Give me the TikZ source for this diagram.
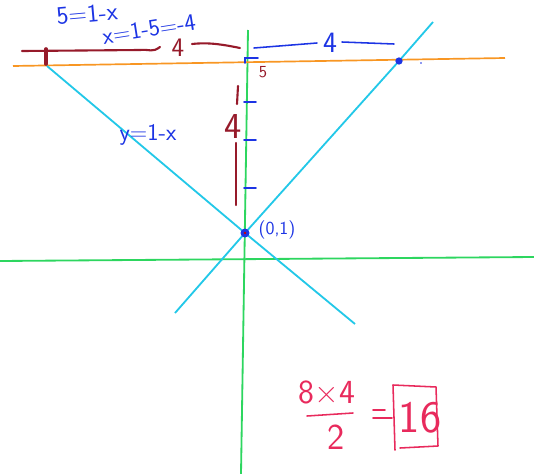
\documentclass[tikz,border=0pt]{standalone}
\usepackage{fontspec}
\usetikzlibrary{positioning}

\definecolor{axisgreen}{RGB}{45,214,95}
\definecolor{levelorange}{RGB}{248,150,35}
\definecolor{graphcyan}{RGB}{35,200,232}
\definecolor{inkblue}{RGB}{28,52,228}
\definecolor{inkmaroon}{RGB}{150,26,42}
\definecolor{inkpink}{RGB}{232,42,92}

\begin{document}
\begin{tikzpicture}[
    x=0.025cm, y=-0.025cm,
    axisline/.style={draw=axisgreen, line width=1.3pt},
    cyanline/.style={draw=graphcyan, line width=1.3pt},
    orangeline/.style={draw=levelorange, line width=1.2pt},
    bluepen/.style={draw=inkblue, line width=1.1pt, line cap=round},
    redpen/.style={draw=inkmaroon, line width=1.5pt, line cap=round},
    pinkpen/.style={draw=inkpink, line width=1.1pt, line cap=round, line join=round},
    bluetext/.style={text=inkblue, inner sep=0pt, font=\sffamily\fontsize{#1}{#1}\selectfont},
    redtext/.style={text=inkmaroon, inner sep=0pt, font=\sffamily\fontsize{#1}{#1}\selectfont},
    pinktext/.style={text=inkpink, inner sep=0pt, font=\sffamily\fontsize{#1}{#1}\selectfont}
]
\useasboundingbox (0,0) rectangle (534,474);

% key points
\coordinate (yint) at (245,233);
\coordinate (xhit) at (399,61);

% axes
\draw[axisline] (0,261) -- (534,257);
\draw[axisline] (248,30) -- (241,474);

% horizontal line y = 5
\draw[orangeline] (13,66) -- (505,58);

% the two graphs
\draw[cyanline] (47,66) -- (yint) -- (355,324);
\draw[cyanline] (175,313) -- (yint) -- (xhit) -- (433,22);

% points
\fill[inkblue] (yint) circle (3.2pt);
\fill[red!80!black] (yint) circle (0.9pt);
\fill[inkblue] (xhit) circle (2.6pt);
\fill[inkblue] (421,63) circle (0.7pt);

% ticks on the y axis
\draw[bluepen] (245,63) -- (245,58) -- (258,58);
\foreach \ty in {102,140,188}
    \draw[bluepen] (244,\ty) -- (256,\ty);

% widths
\draw[redpen] (22,51) -- (140,50) .. controls (150,49) and (152,53) .. (160,47);
\draw[redpen, line width=2.6pt] (46,49) -- (46,64);
\node[redtext=19] (leftw) at (178,48) {4};
\draw[redpen] (192,44) .. controls (210,42) and (225,45) .. (240,48);
\draw[bluepen] (254,48) -- (317,43);
\node[bluetext=21] (rightw) at (330,43) {4};
\draw[bluepen] (342,42) -- (394,44);

% height
\draw[redpen] (238,86) -- (237,104);
\node[redtext=26] (height) at (233,127) {4};
\draw[redpen] (236,143) -- (236,205);
\node[redtext=12] (five) at (263,72) {5};

% notes
\node[bluetext=18, rotate=5] (eqa) at (87,14) {5=1-x};
\node[bluetext=17, rotate=9] (eqb) at (149,29) {x=1-5=-4};
\node[bluetext=17] (eqc) at (148,135) {y=1-x};
\node[bluetext=13] (pt) at (277,230) {(0,1)};

% area
\node[pinktext=24] (num) at (327,392) {8×4};
\draw[pinkpen] (307,416) -- (353,413);
\node[pinktext=26] (den) at (336,437) {2};
\draw[pinkpen] (373,410) -- (385,410);
\draw[pinkpen] (373,418) -- (392,418);
\draw[pinkpen] (395,450) -- (393,385) -- (436,387) -- (438,446) -- (400,448);
\node[pinktext=32] (area) at (420,418) {16};

\end{tikzpicture}
\end{document}
